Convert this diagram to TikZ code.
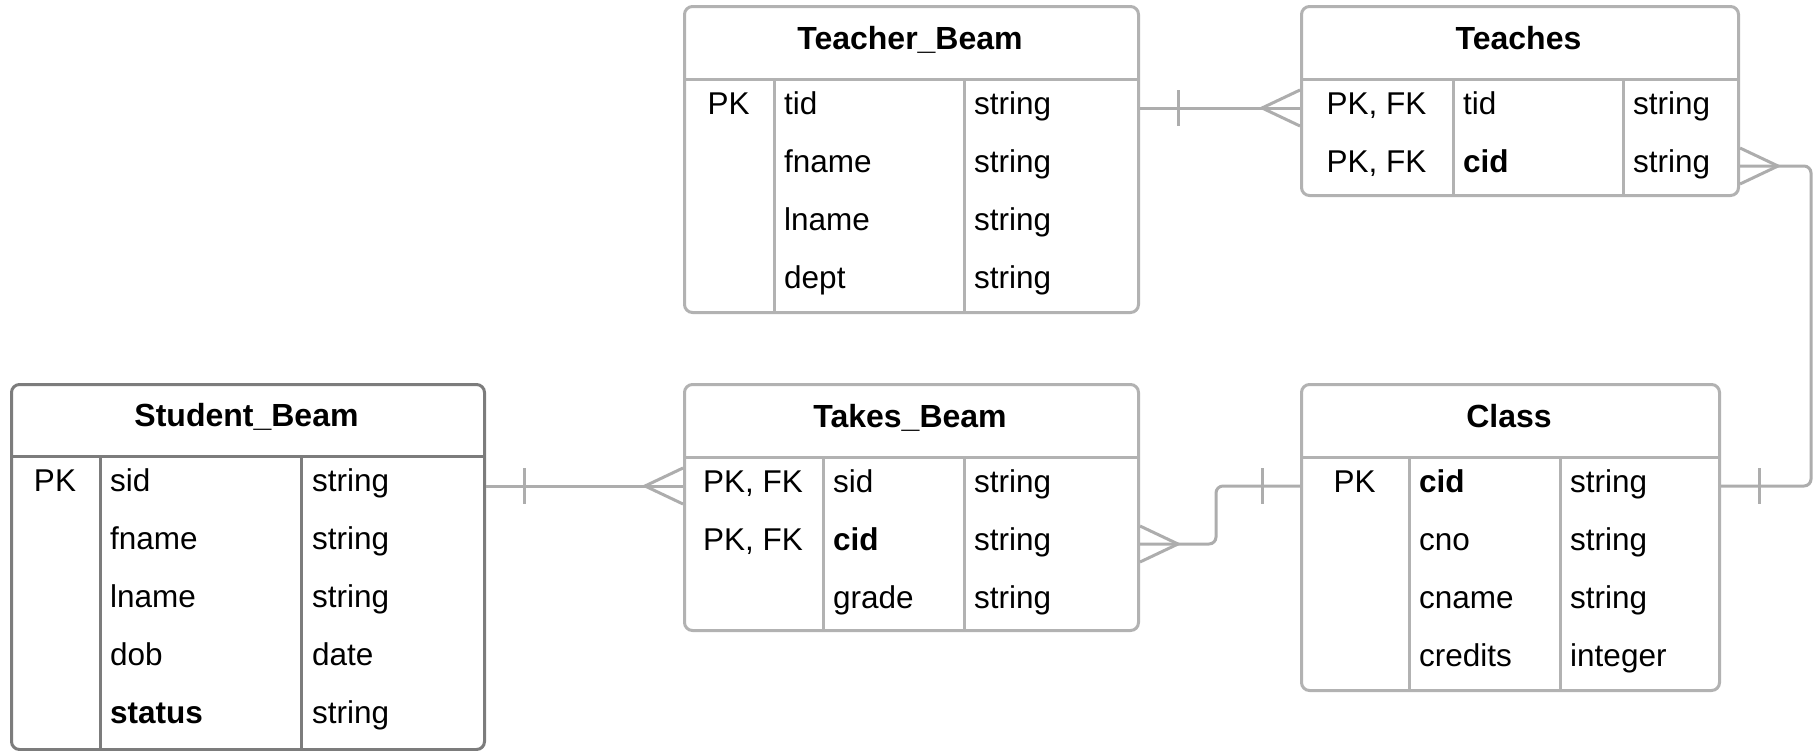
\documentclass[tikz,border=0pt]{standalone}
\usepackage{fontspec}
\setmainfont{Liberation Sans}
\usetikzlibrary{calc}
\definecolor{lgray}{HTML}{B2B2B2}
\definecolor{dgray}{HTML}{7C7C7C}
\definecolor{cgray}{HTML}{ADADAD}
\tikzset{
  tbl/.style={draw=lgray, line width=3pt, rounded corners=8pt, inner sep=0pt, anchor=north west, fill=white},
  tbldark/.style={tbl, draw=dgray},
  sep/.style={draw=lgray, line width=3pt},
  sepdark/.style={draw=dgray, line width=3pt},
  cell/.style={anchor=base west, inner sep=0pt, font=\fontsize{31.5}{36}\selectfont},
  ccell/.style={anchor=base, inner sep=0pt, font=\fontsize{31.5}{36}\selectfont},
  ttl/.style={anchor=base, inner sep=0pt, font=\fontsize{32}{36}\selectfont\bfseries},
  conn/.style={draw=cgray, line width=3pt},
}
\begin{document}
\begin{tikzpicture}[x=1pt,y=-1pt]
\useasboundingbox (0,0) rectangle (1819,750);

% ---------------- Student_Beam
\node[tbldark, minimum width=473pt, minimum height=365pt] (student) at (10,383) {};
\draw[sepdark] (10,456) -- (483,456);
\draw[sepdark] (100,456) -- (100,748);
\draw[sepdark] (301,456) -- (301,748);
\node[ttl] (s-title) at (246.5,426) {Student\_Beam};
\node[ccell] (s-pk) at (55,491) {PK};
\node[cell] (s-sid) at (110,491) {sid};
\node[cell] (s-fname) at (110,549) {fname};
\node[cell] (s-lname) at (110,607) {lname};
\node[cell] (s-dob) at (110,665) {dob};
\node[cell] (s-status) at (110,723) {\bfseries status};
\node[cell] (s-t1) at (312,491) {string};
\node[cell] (s-t2) at (312,549) {string};
\node[cell] (s-t3) at (312,607) {string};
\node[cell] (s-t4) at (312,665) {date};
\node[cell] (s-t5) at (312,723) {string};
\coordinate (s-r1) at (0,486);

% ---------------- Teacher_Beam
\node[tbl, minimum width=454pt, minimum height=306pt] (teacher) at (683,5) {};
\draw[sep] (683,79) -- (1137,79);
\draw[sep] (774,79) -- (774,311);
\draw[sep] (964,79) -- (964,311);
\node[ttl] (tb-title) at (910,49) {Teacher\_Beam};
\node[ccell] (tb-pk) at (728.5,114) {PK};
\node[cell] (tb-tid) at (784,114) {tid};
\node[cell] (tb-fname) at (784,172) {fname};
\node[cell] (tb-lname) at (784,230) {lname};
\node[cell] (tb-dept) at (784,288) {dept};
\node[cell] (tb-t1) at (974,114) {string};
\node[cell] (tb-t2) at (974,172) {string};
\node[cell] (tb-t3) at (974,230) {string};
\node[cell] (tb-t4) at (974,288) {string};
\coordinate (tb-r1) at (0,108);

% ---------------- Teaches
\node[tbl, minimum width=437pt, minimum height=189pt] (teaches) at (1300,5) {};
\draw[sep] (1300,79) -- (1737,79);
\draw[sep] (1453,79) -- (1453,194);
\draw[sep] (1623,79) -- (1623,194);
\node[ttl] (te-title) at (1518.5,49) {Teaches};
\node[ccell] (te-pk1) at (1376.5,114) {PK, FK};
\node[ccell] (te-pk2) at (1376.5,172) {PK, FK};
\node[cell] (te-tid) at (1463,114) {tid};
\node[cell] (te-cid) at (1463,172) {\bfseries cid};
\node[cell] (te-t1) at (1633,114) {string};
\node[cell] (te-t2) at (1633,172) {string};
\coordinate (te-r2) at (0,166);

% ---------------- Takes_Beam
\node[tbl, minimum width=454pt, minimum height=246pt] (takes) at (683,383) {};
\draw[sep] (683,457) -- (1137,457);
\draw[sep] (823,457) -- (823,629);
\draw[sep] (964,457) -- (964,629);
\node[ttl] (k-title) at (910,427) {Takes\_Beam};
\node[ccell] (k-pk1) at (753,492) {PK, FK};
\node[ccell] (k-pk2) at (753,550) {PK, FK};
\node[cell] (k-sid) at (833,492) {sid};
\node[cell] (k-cid) at (833,550) {\bfseries cid};
\node[cell] (k-grade) at (833,608) {grade};
\node[cell] (k-t1) at (974,492) {string};
\node[cell] (k-t2) at (974,550) {string};
\node[cell] (k-t3) at (974,608) {string};
\coordinate (k-r2) at (0,544);

% ---------------- Class
\node[tbl, minimum width=418pt, minimum height=306pt] (class) at (1300,383) {};
\draw[sep] (1300,457) -- (1718,457);
\draw[sep] (1409,457) -- (1409,689);
\draw[sep] (1560,457) -- (1560,689);
\node[ttl] (c-title) at (1509,427) {Class};
\node[ccell] (c-pk) at (1354.5,492) {PK};
\node[cell] (c-cid) at (1419,492) {\bfseries cid};
\node[cell] (c-cno) at (1419,550) {cno};
\node[cell] (c-cname) at (1419,608) {cname};
\node[cell] (c-credits) at (1419,666) {credits};
\node[cell] (c-t1) at (1570,492) {string};
\node[cell] (c-t2) at (1570,550) {string};
\node[cell] (c-t3) at (1570,608) {string};
\node[cell] (c-t4) at (1570,666) {integer};
\coordinate (c-r1) at (0,486);

% ---------------- connectors
% Teacher_Beam -> Teaches
\coordinate (a1) at (teacher.east |- tb-r1);
\coordinate (a2) at (teaches.west |- tb-r1);
\draw[conn] (a1) -- (a2);
\draw[conn] ($(a1)+(38,-18)$) -- ($(a1)+(38,18)$);
\draw[conn] ($(a2)+(0,-18)$) -- ($(a2)+(-38,0)$) -- ($(a2)+(0,18)$);

% Student_Beam -> Takes_Beam
\coordinate (b1) at (student.east |- s-r1);
\coordinate (b2) at (takes.west |- s-r1);
\draw[conn] (b1) -- (b2);
\draw[conn] ($(b1)+(38,-18)$) -- ($(b1)+(38,18)$);
\draw[conn] ($(b2)+(0,-18)$) -- ($(b2)+(-38,0)$) -- ($(b2)+(0,18)$);

% Takes_Beam -> Class
\coordinate (d1) at (takes.east |- k-r2);
\coordinate (d2) at (class.west |- c-r1);
\draw[conn, rounded corners=7pt] (d1) -| (1216,515) |- (d2);
\draw[conn] ($(d2)+(-38,-18)$) -- ($(d2)+(-38,18)$);
\draw[conn] ($(d1)+(0,-18)$) -- ($(d1)+(38,0)$) -- ($(d1)+(0,18)$);

% Class -> Teaches
\coordinate (e1) at (class.east |- c-r1);
\coordinate (e2) at (teaches.east |- te-r2);
\draw[conn, rounded corners=7pt] (e1) -- ($(e1)+(90,0)$) |- (e2);
\draw[conn] ($(e1)+(38,-18)$) -- ($(e1)+(38,18)$);
\draw[conn] ($(e2)+(0,-18)$) -- ($(e2)+(38,0)$) -- ($(e2)+(0,18)$);
\end{tikzpicture}
\end{document}
